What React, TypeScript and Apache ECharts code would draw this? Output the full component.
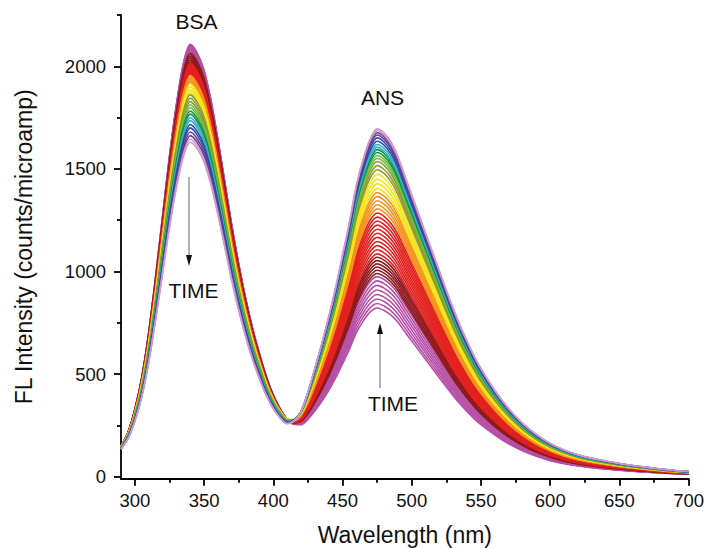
import React, { useEffect, useRef } from 'react';
import * as echarts from 'echarts';

// Emission wavelengths (nm)
const wavelengths = [
  290, 295, 300, 305, 310, 315, 320, 325, 330, 335, 340, 345, 350, 355, 360, 365, 370, 375, 380, 385,
  390, 395, 400, 405, 410, 415, 420, 425, 430, 435, 440, 445, 450, 455, 460, 465, 470, 475, 480, 485,
  490, 495, 500, 505, 510, 515, 520, 525, 530, 535, 540, 545, 550,
  560, 570, 580, 590, 600, 610, 620, 630, 640, 650, 660, 670, 680, 690, 700,
];

// Normalised BSA (Trp) emission band
const bsaShape = [
  0.062, 0.095, 0.15, 0.225, 0.33, 0.46, 0.6, 0.74, 0.86, 0.955, 1.0, 0.98, 0.94, 0.87, 0.78, 0.68, 0.58, 0.49, 0.41, 0.34,
  0.28, 0.225, 0.18, 0.145, 0.117, 0.095, 0.077, 0.063, 0.052, 0.044, 0.037, 0.032, 0.027, 0.023, 0.02, 0.017, 0.015, 0.013, 0.011, 0.0095,
  0.008, 0.007, 0.006, 0.0055, 0.005, 0.0045, 0.004, 0.0035, 0.003, 0.0028, 0.0025, 0.0022, 0.002,
  0.0018, 0.0015, 0.0012, 0.001, 0.001, 0.0008, 0.0007, 0.0006, 0.0005, 0.0004, 0.0003, 0.0002, 0.0001, 0, 0,
];

// Normalised ANS emission band
const ansShape = [
  0.02, 0.018, 0.016, 0.014, 0.012, 0.011, 0.01, 0.009, 0.009, 0.008, 0.008, 0.008, 0.008, 0.008, 0.008, 0.009, 0.009, 0.01, 0.011, 0.012,
  0.014, 0.018, 0.023, 0.03, 0.041, 0.07, 0.115, 0.185, 0.265, 0.345, 0.43, 0.52, 0.62, 0.72, 0.83, 0.91, 0.97, 1.0, 0.99, 0.965,
  0.925, 0.87, 0.815, 0.76, 0.705, 0.65, 0.595, 0.54, 0.487, 0.437, 0.392, 0.35, 0.313,
  0.25, 0.197, 0.155, 0.122, 0.096, 0.077, 0.063, 0.053, 0.045, 0.038, 0.032, 0.027, 0.022, 0.018, 0.015,
];

// Per-spectrum band amplitudes (time order)
const bsaAmplitude = [
  2101, 2096, 2091, 2086, 2081, 2076, 2071, 2066,
  2057, 2048, 2039, 2030, 2021, 2012,
  2006, 2001, 1996, 1991, 1986, 1981, 1975, 1969, 1963, 1958, 1953,
  1945, 1936, 1927, 1918, 1910,
  1903, 1889, 1875, 1862,
  1850, 1833, 1816,
  1800, 1786,
  1770, 1754,
  1736, 1722,
  1703, 1687,
  1667, 1649,
  1632, 1617,
];
const ansAmplitude = [
  795, 817, 839, 861, 883, 905, 927, 948,
  963, 979, 995, 1011, 1027, 1043,
  1060, 1080, 1100, 1120, 1140, 1160, 1180, 1200, 1220, 1240, 1260,
  1280, 1300, 1320, 1340, 1360,
  1380, 1403, 1426, 1449,
  1472, 1492, 1512,
  1528, 1542,
  1557, 1571,
  1583, 1597,
  1613, 1629,
  1643, 1655,
  1665, 1674,
];

const groupColors = [
  '#B64FA6', '#8E1B1F', '#E3211F', '#F6921E', '#F3E51A', '#8E9B36',
  '#72BF44', '#139447', '#39B0C6', '#2B4FA2', '#6C3A96', '#CC9ACF',
];
const groupSizes = [8, 6, 11, 5, 4, 3, 2, 2, 2, 2, 2, 2];

const xMajorTicks = [300, 350, 400, 450, 500, 550, 600, 650, 700];
const xMinorTicks = [325, 375, 425, 475, 525, 575, 625, 675];
const yMajorTicks = [0, 500, 1000, 1500, 2000];
const yMinorTicks = [250, 750, 1250, 1750, 2250];

const FONT = 'Arial, "Liberation Sans", sans-serif';

export default function App() {
  const ref = useRef<HTMLDivElement>(null);

  useEffect(() => {
    document.body.style.margin = '0';
    const chart = echarts.init(ref.current!, null, { renderer: 'svg' });

    const curveColors: string[] = [];
    groupSizes.forEach((n, g) => {
      for (let k = 0; k < n; k++) curveColors.push(groupColors[g]);
    });

    const series = bsaAmplitude.map((b, i) => ({
      type: 'line',
      xAxisIndex: 0,
      yAxisIndex: 0,
      showSymbol: false,
      smooth: 0.3,
      silent: true,
      lineStyle: { width: 1.6, color: curveColors[i] },
      data: wavelengths.map((w, j) => [w, Math.round(b * bsaShape[j] + ansAmplitude[i] * ansShape[j])]),
    }));

    const axisColor = '#000';
    const lineW = 1.8;
    const plain = (v: number) => String(v);

    chart.setOption({
      animation: false,
      backgroundColor: '#fff',
      grid: { left: 121, right: 18.3, top: 15, bottom: 69.3, containLabel: false, outerBoundsMode: 'none' },
      xAxis: [
        {
          type: 'value', min: 290, max: 700, position: 'bottom',
          axisLine: { show: true, onZero: false, lineStyle: { color: axisColor, width: lineW } },
          axisTick: { show: true, customValues: xMajorTicks, length: 7, lineStyle: { color: axisColor, width: lineW } },
          axisLabel: { customValues: xMajorTicks, formatter: plain, color: '#111', fontSize: 18.5, fontFamily: FONT, margin: 12 },
          splitLine: { show: false },
          name: 'Wavelength (nm)', nameLocation: 'middle', nameGap: 45,
          nameTextStyle: { fontSize: 23, color: '#111', fontFamily: FONT },
        },
        {
          type: 'value', min: 290, max: 700, position: 'bottom',
          axisLine: { show: false, onZero: false },
          axisTick: { show: true, customValues: xMinorTicks, length: 4, lineStyle: { color: axisColor, width: lineW } },
          axisLabel: { show: false },
          splitLine: { show: false },
        },
      ],
      yAxis: [
        {
          type: 'value', min: -10, max: 2250, position: 'left',
          axisLine: { show: true, onZero: false, lineStyle: { color: axisColor, width: lineW } },
          axisTick: { show: true, customValues: yMajorTicks, length: 7, lineStyle: { color: axisColor, width: lineW } },
          axisLabel: { customValues: yMajorTicks, formatter: plain, color: '#111', fontSize: 18.5, fontFamily: FONT, margin: 15 },
          splitLine: { show: false },
          name: 'FL Intensity (counts/microamp)', nameLocation: 'middle', nameGap: 86, nameRotate: 90,
          nameTextStyle: { fontSize: 23, color: '#111', fontFamily: FONT },
        },
        {
          type: 'value', min: -10, max: 2250, position: 'left',
          axisLine: { show: false, onZero: false },
          axisTick: { show: true, customValues: yMinorTicks, length: 4, lineStyle: { color: axisColor, width: lineW } },
          axisLabel: { show: false },
          splitLine: { show: false },
        },
      ],
      series,
      graphic: [
        { type: 'text', x: 196.5, y: 21.5, style: { text: 'BSA', fill: '#111', font: `21px ${FONT}`, textAlign: 'center', textVerticalAlign: 'middle' } },
        { type: 'text', x: 382.5, y: 97, style: { text: 'ANS', fill: '#111', font: `21px ${FONT}`, textAlign: 'center', textVerticalAlign: 'middle' } },
        { type: 'text', x: 193.5, y: 290, style: { text: 'TIME', fill: '#111', font: `21px ${FONT}`, textAlign: 'center', textVerticalAlign: 'middle' } },
        { type: 'text', x: 393, y: 403, style: { text: 'TIME', fill: '#111', font: `21px ${FONT}`, textAlign: 'center', textVerticalAlign: 'middle' } },
        { type: 'line', shape: { x1: 189, y1: 177, x2: 189, y2: 258 }, style: { stroke: '#666', lineWidth: 1 } },
        { type: 'polygon', shape: { points: [[186, 255], [192, 255], [189, 266]] }, style: { fill: '#111' } },
        { type: 'line', shape: { x1: 380, y1: 388, x2: 380, y2: 330 }, style: { stroke: '#666', lineWidth: 1 } },
        { type: 'polygon', shape: { points: [[377, 334], [383, 334], [380, 323]] }, style: { fill: '#111' } },
      ],
    });

    return () => chart.dispose();
  }, []);

  return <div ref={ref} style={{ width: 707, height: 548 }} />;
}
